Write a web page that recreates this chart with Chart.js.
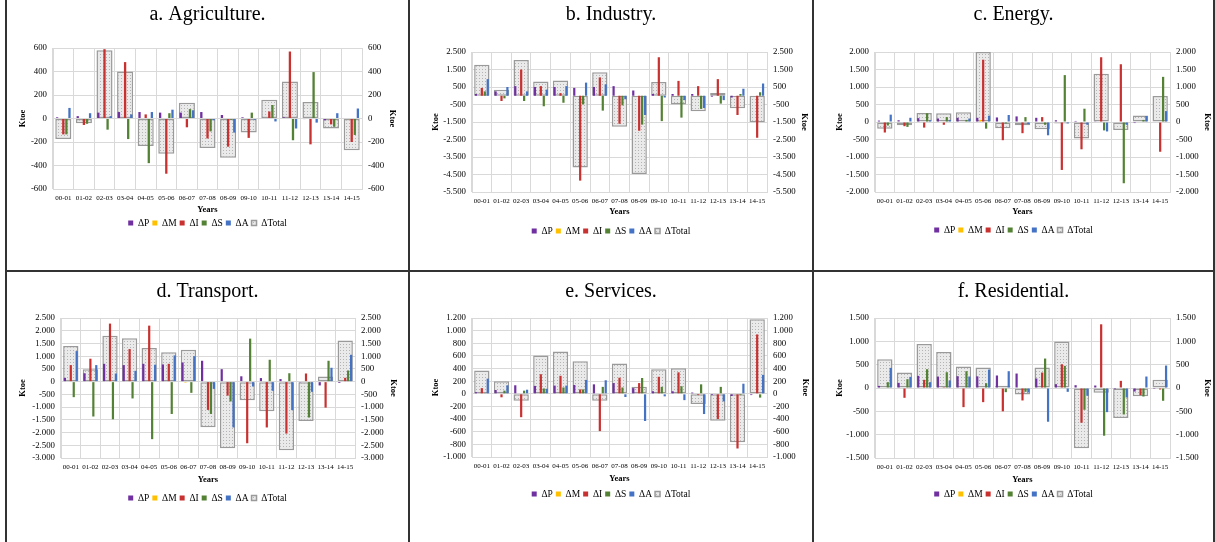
<!DOCTYPE html>
<html>
<head>
<meta charset="UTF-8">
<script src="https://cdn.jsdelivr.net/npm/chart.js"></script>
<style>
  body { margin: 0; background: #fff; }
  #page { position: relative; width: 1215px; height: 542px; overflow: hidden; background: #fff; }
  .panel { position: absolute; }
  .panel canvas { display: block; }
  .line { position: absolute; background: #333; }
</style>
</head>
<body>
<div id="page">
  <div class="line" style="left:5px;top:0;width:2px;height:542px"></div>
  <div class="line" style="left:408px;top:0;width:2px;height:542px"></div>
  <div class="line" style="left:812px;top:0;width:2px;height:542px"></div>
  <div class="line" style="left:1213px;top:0;width:2px;height:542px"></div>
  <div class="line" style="left:5px;top:270px;width:1210px;height:2px"></div>

  <div class="panel" style="left:7px;top:0;width:401px;height:270px"><canvas id="c0"></canvas></div>
  <div class="panel" style="left:410px;top:0;width:402px;height:270px"><canvas id="c1"></canvas></div>
  <div class="panel" style="left:814px;top:0;width:399px;height:270px"><canvas id="c2"></canvas></div>
  <div class="panel" style="left:7px;top:272px;width:401px;height:270px"><canvas id="c3"></canvas></div>
  <div class="panel" style="left:410px;top:272px;width:402px;height:270px"><canvas id="c4"></canvas></div>
  <div class="panel" style="left:814px;top:272px;width:399px;height:270px"><canvas id="c5"></canvas></div>
</div>

<script>
  // categories
  const years = ['00-01', '01-02', '02-03', '03-04', '04-05', '05-06', '06-07', '07-08',
    '08-09', '09-10', '10-11', '11-12', '12-13', '13-14', '14-15'];

  // a. Agriculture (ktoe)
  const agriP = [10, 20, 50, 55, 55, 50, 50, 55, 30, 10, 5, 10, -5, -15, 0];
  const agriM = [0, 0, 0, 0, 0, 0, 0, 0, 0, 0, 0, 0, 0, 0, -5];
  const agriI = [-135, -55, 590, 480, 35, -470, -75, -170, -240, -165, 60, 570, -220, -50, -200];
  const agriS = [-135, -45, -95, -175, -380, 45, 80, -110, -10, 50, 115, -185, 395, -70, -140];
  const agriA = [90, 45, 20, 35, 55, 75, 70, -15, -120, -10, -25, -85, -35, 45, 85];
  const agriTotal = [-175, -40, 580, 400, -235, -300, 135, -250, -335, -120, 160, 315, 140, -85, -270];
  const agriTicks = [-600, 600, 200];

  // b. Industry
  const indP = [100, 250, 550, 500, 500, 450, 500, 550, 300, 100, 100, 100, -50, -100, 0];
  const indM = [0, 0, 0, 0, 0, 0, 0, 0, 0, 0, 0, 0, 0, 0, 0];
  const indI = [450, -300, 1500, 550, 150, -4850, 1050, -1600, -2000, 2200, 850, 550, 950, -1100, -2400];
  const indS = [250, -150, -300, -600, -400, -500, -850, -550, -1650, -1450, -1250, -750, -450, 100, 200];
  const indA = [950, 500, 250, 350, 550, 750, 650, -200, -1100, -100, -250, -700, -250, 400, 700];
  const indTotal = [1770, 340, 2050, 810, 870, -4100, 1350, -1770, -4470, 780, -500, -890, 160, -710, -1520];
  const indTicks = [-5500, 2500, 1000];

  // c. Energy
  const enP = [40, 50, 110, 100, 120, 120, 130, 160, 120, 50, 30, 20, 0, -30, 0];
  const enM = [0, 0, 0, 0, 0, 60, 0, 0, 0, 0, 0, 0, 0, 0, 0];
  const enI = [-300, -120, -160, -80, 0, 1780, -520, -320, 140, -1370, -780, 1850, 1650, 0, -850];
  const enS = [-100, -140, 250, 140, 60, -190, -40, 140, -80, 1340, 380, -240, -1750, 60, 1290];
  const enA = [210, 120, 50, 60, 100, 180, 200, -60, -380, -40, -80, -270, -80, 170, 310];
  const enTotal = [-190, -90, 260, 250, 280, 2000, -180, -90, -205, -45, -470, 1380, -225, 185, 740];
  const enTicks = [-2000, 2000, 500];

  // d. Transport
  const trP = [150, 330, 700, 650, 700, 675, 755, 820, 490, 210, 140, 100, -30, -150, -50];
  const trM = [0, 0, 0, 0, 0, 0, -40, 0, 0, 0, 0, 0, 0, 0, 0];
  const trI = [650, 900, 2280, 1280, 2200, 700, 0, -1110, -550, -2420, -1800, -2040, 320, -1020, 150];
  const trS = [-610, -1370, -1480, -660, -2260, -1270, -440, -1270, -780, 1690, 860, 330, -1410, 820, 440];
  const trA = [1200, 650, 320, 425, 665, 1030, 1000, -285, -1800, -190, -360, -1120, -400, 545, 1055];
  const trTotal = [1400, 490, 1800, 1700, 1320, 1150, 1250, -1790, -2620, -730, -1165, -2700, -1545, 200, 1620];
  const trTicks = [-3000, 2500, 500];

  // e. Services
  const serP = [25, 60, 135, 125, 130, 140, 150, 170, 90, 40, 40, 20, -20, -35, -20];
  const serM = [0, 0, 0, 0, 0, 0, 0, 0, 0, 0, 0, 0, 0, 0, 0];
  const serI = [90, -55, -370, 310, 285, 70, -590, 255, 170, 270, 340, -20, -400, -865, 940];
  const serS = [5, 50, 50, 85, 100, 70, 110, 100, 250, 110, 120, 150, 110, -20, -60];
  const serA = [240, 135, 65, 80, 130, 220, 215, -50, -430, -40, -100, -320, -120, 160, 300];
  const serTotal = [370, 200, -110, 605, 670, 517, -108, 480, 112, 388, 405, -160, -428, -765, 1180];
  const serTicks = [-1000, 1200, 200];

  // f. Residential
  const resP = [45, 110, 260, 245, 253, 250, 268, 310, 203, 82, 60, 53, -25, -75, -20];
  const resM = [0, 0, 0, 0, 0, 0, 0, 0, 0, 0, 0, 0, 0, 0, 0];
  const resI = [0, -210, 175, 18, -410, -303, -500, -267, 331, 510, -745, 1365, 153, -153, -32];
  const resS = [125, 189, 403, 338, 360, 103, -89, -82, 631, 474, -467, -1022, -567, -182, -274];
  const resA = [431, 239, 125, 160, 246, 395, 360, -96, -723, -82, -167, -517, -203, 246, 481];
  const resTotal = [616, 331, 944, 773, 460, 438, 46, -139, 438, 994, -1293, -103, -645, -175, 175];
  const resTicks = [-1500, 1500, 500];

  const keys = ['ΔP', 'ΔM', 'ΔI', 'ΔS', 'ΔA'];
  const colors = ['#7030A0', '#FFC000', '#C8312F', '#548235', '#4472C4'];
  const SERIF = "'Liberation Serif', 'Times New Roman', serif";

  // where things sit inside each panel (px, relative to the panel)
  const panels = [
    { id: 'c0', title: 'a. Agriculture.', series: [agriP, agriM, agriI, agriS, agriA], total: agriTotal, ticks: agriTicks,
      box: { left: 46, right: 46, top: 48, bottom: 189, titleY: 15, yearsY: 210, legendY: 223, ktoeL: 16, ktoeR: 16 } },
    { id: 'c1', title: 'b. Industry.', series: [indP, indM, indI, indS, indA], total: indTotal, ticks: indTicks,
      box: { left: 62, right: 45, top: 52, bottom: 192, titleY: 15, yearsY: 212, legendY: 231, ktoeL: 26, ktoeR: 8 } },
    { id: 'c2', title: 'c. Energy.', series: [enP, enM, enI, enS, enA], total: enTotal, ticks: enTicks,
      box: { left: 61, right: 43, top: 52, bottom: 192, titleY: 15, yearsY: 212, legendY: 230, ktoeL: 26, ktoeR: 6 } },
    { id: 'c3', title: 'd. Transport.', series: [trP, trM, trI, trS, trA], total: trTotal, ticks: trTicks,
      box: { left: 54, right: 53, top: 46, bottom: 186, titleY: 20, yearsY: 208, legendY: 226, ktoeL: 16, ktoeR: 15 } },
    { id: 'c4', title: 'e. Services.', series: [serP, serM, serI, serS, serA], total: serTotal, ticks: serTicks,
      box: { left: 62, right: 45, top: 46, bottom: 185, titleY: 20, yearsY: 207, legendY: 222, ktoeL: 26, ktoeR: 7 } },
    { id: 'c5', title: 'f. Residential.', series: [resP, resM, resI, resS, resA], total: resTotal, ticks: resTicks,
      box: { left: 61, right: 43, top: 46, bottom: 186, titleY: 20, yearsY: 208, legendY: 222, ktoeL: 26, ktoeR: 6 } }
  ];

  function dotPattern() {
    const c = document.createElement('canvas');
    c.width = 3; c.height = 3;
    const g = c.getContext('2d');
    g.fillStyle = '#eaeaea';
    g.fillRect(0, 0, 3, 3);
    g.fillStyle = '#b4b4b4';
    g.fillRect(0, 0, 1, 1);
    return g.createPattern(c, 'repeat');
  }

  function fmt(v) {
    return String(v).replace(/\B(?=(\d{3})+(?!\d))/g, '.');
  }

  const pattern = dotPattern();

  panels.forEach(p => {
    const el = document.getElementById(p.id);
    const W = el.parentNode.clientWidth, H = el.parentNode.clientHeight;
    el.width = W; el.height = H;
    const L = p.box;

    const titlePadTop = L.titleY - 12;
    const titlePadBottom = L.top - titlePadTop - 24;
    const lp = 3, lfs = 9.5;
    const legendTop = L.legendY - lp - lfs / 2;
    const legendH = lfs + lp + 10;
    const xH = legendTop - L.bottom;
    const bottomPad = H - legendTop - legendH;
    const yearsPad = Math.max(0, legendTop - L.yearsY - 5.1);
    const [ymin, ymax, ystep] = p.ticks;

    const datasets = keys.map((k, i) => ({
      label: k,
      data: p.series[i],
      backgroundColor: colors[i],
      borderWidth: 0,
      categoryPercentage: 0.75,
      barPercentage: 0.75,
      order: 0
    }));
    datasets.push({
      label: 'ΔTotal',
      data: p.total,
      backgroundColor: pattern,
      borderColor: '#9a9a9a',
      borderWidth: 1.5,
      borderSkipped: false,
      grouped: false,
      categoryPercentage: 1,
      barPercentage: 0.78,
      order: 1
    });

    const yTicks = { color: '#000', padding: 6, autoSkip: false, stepSize: ystep,
      font: { family: SERIF, size: 8.8 }, callback: v => fmt(v) };
    const ktoe = pad => ({ display: true, text: 'Ktoe', color: '#000',
      font: { family: SERIF, size: 8.5, weight: 'bold' }, padding: { top: pad, bottom: 0 } });

    new Chart(el, {
      type: 'bar',
      data: { labels: years, datasets: datasets },
      options: {
        responsive: false,
        animation: false,
        layout: { padding: { left: 0, right: 0, top: 0, bottom: bottomPad } },
        plugins: {
          title: {
            display: true,
            text: p.title,
            color: '#000',
            font: { family: SERIF, size: 20, weight: 'normal' },
            padding: { top: titlePadTop, bottom: titlePadBottom }
          },
          legend: {
            position: 'bottom',
            labels: { boxWidth: 5, boxHeight: 5, padding: lp, color: '#000',
              font: { family: SERIF, size: lfs } }
          },
          tooltip: { enabled: false }
        },
        scales: {
          x: {
            grid: { color: '#d9d9d9', drawTicks: false },
            border: { color: '#d9d9d9' },
            ticks: { color: '#000', padding: 4.5, maxRotation: 0, minRotation: 0, autoSkip: false,
              font: { family: SERIF, size: 7 } },
            title: { display: true, text: 'Years', color: '#000',
              font: { family: SERIF, size: 8.5, weight: 'bold' }, padding: { top: 0, bottom: yearsPad } },
            afterFit: s => { s.height = xH; }
          },
          y: {
            position: 'left',
            min: ymin, max: ymax,
            grid: { color: '#d9d9d9', drawTicks: false },
            border: { color: '#d9d9d9' },
            ticks: yTicks,
            title: ktoe(L.ktoeL - 5.1),
            afterFit: s => { s.width = L.left; }
          },
          y2: {
            position: 'right',
            min: ymin, max: ymax,
            grid: { display: false, drawTicks: false },
            border: { color: '#d9d9d9' },
            ticks: yTicks,
            title: ktoe(Math.max(0, L.ktoeR - 5.1)),
            afterFit: s => { s.width = L.right; }
          }
        }
      }
    });
  });
</script>
</body>
</html>
